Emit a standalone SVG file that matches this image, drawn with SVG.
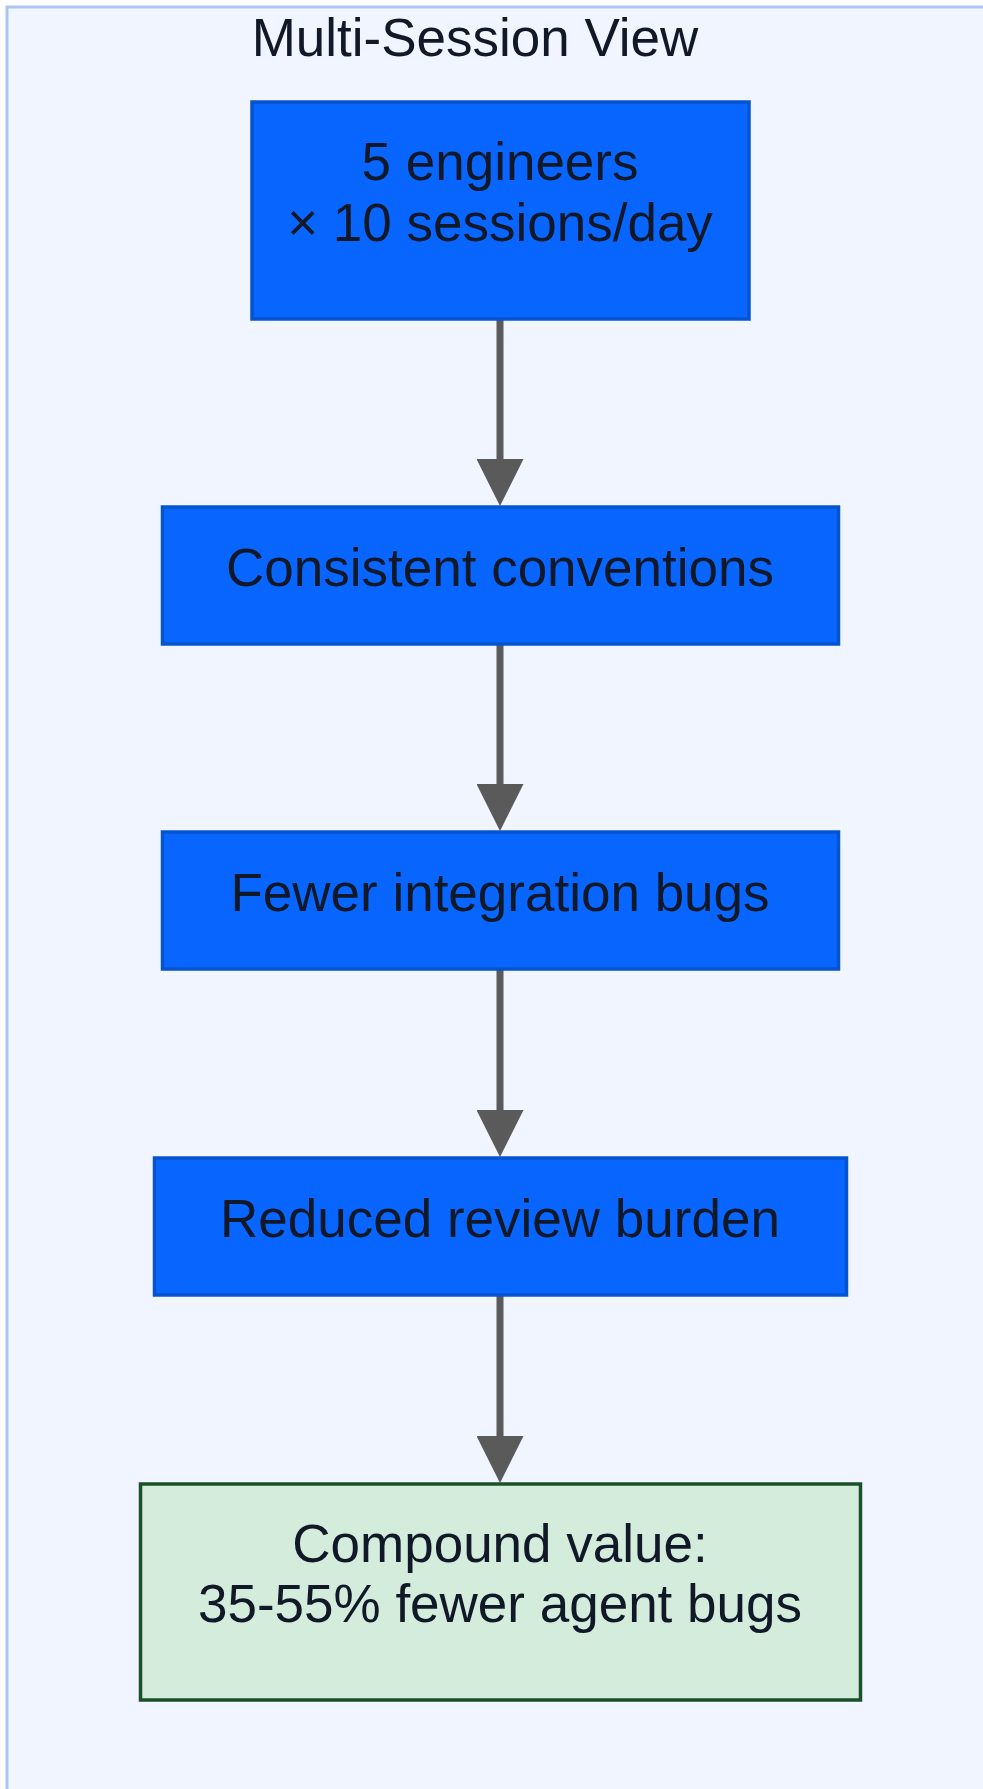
<svg xmlns="http://www.w3.org/2000/svg" width="983" height="1789" viewBox="0 0 983 1789">
  <style>
    .frame { fill: #f0f5ff; stroke: #a9c6f5; stroke-width: 3; }
    .title { font-family: "Liberation Sans", Arial, sans-serif; font-size: 53px; fill: #111827; text-anchor: middle; }
    .node rect { fill: #0866ff; stroke: #0454d0; stroke-width: 3.5; }
    .node.result rect { fill: #d4ecdb; stroke: #1b5128; stroke-width: 3.5; }
    .node text { font-family: "Liberation Sans", Arial, sans-serif; font-size: 53px; fill: #111827; text-anchor: middle; }
    .edge { stroke: #5a5a5a; stroke-width: 7; fill: none; }
    .head { fill: #5a5a5a; }
  </style>
  <defs>
    <marker id="arrow" viewBox="0 0 10 10" refX="0" refY="5" markerUnits="userSpaceOnUse" markerWidth="47" markerHeight="47" orient="auto">
      <path class="head" d="M0,0 L10,5 L0,10 z"/>
    </marker>
  </defs>

  <!-- subgraph frame -->
  <rect class="frame" x="7" y="7" width="1000" height="1800"/>
  <text class="title" x="475" y="56">Multi-Session View</text>

  <!-- connectors -->
  <g id="connectors">
    <line class="edge" x1="500" y1="319" x2="500" y2="459" marker-end="url(#arrow)"/>
    <line class="edge" x1="500" y1="645" x2="500" y2="784" marker-end="url(#arrow)"/>
    <line class="edge" x1="500" y1="969" x2="500" y2="1110" marker-end="url(#arrow)"/>
    <line class="edge" x1="500" y1="1296" x2="500" y2="1436" marker-end="url(#arrow)"/>
  </g>

  <!-- nodes -->
  <g id="engineers" class="node">
    <rect x="252" y="102" width="497" height="217"/>
    <text x="500" y="180">5 engineers</text>
    <text x="500" y="241">× 10 sessions/day</text>
  </g>
  <g id="conventions" class="node">
    <rect x="162.5" y="507" width="676" height="137"/>
    <text x="500" y="586">Consistent conventions</text>
  </g>
  <g id="integration" class="node">
    <rect x="162.5" y="832" width="676" height="137"/>
    <text x="500" y="911">Fewer integration bugs</text>
  </g>
  <g id="review" class="node">
    <rect x="154.5" y="1158" width="692" height="137"/>
    <text x="500" y="1237">Reduced review burden</text>
  </g>
  <g id="compound" class="node result">
    <rect x="140.5" y="1484" width="720" height="216"/>
    <text x="500" y="1562">Compound value:</text>
    <text x="500" y="1622">35-55% fewer agent bugs</text>
  </g>
</svg>
